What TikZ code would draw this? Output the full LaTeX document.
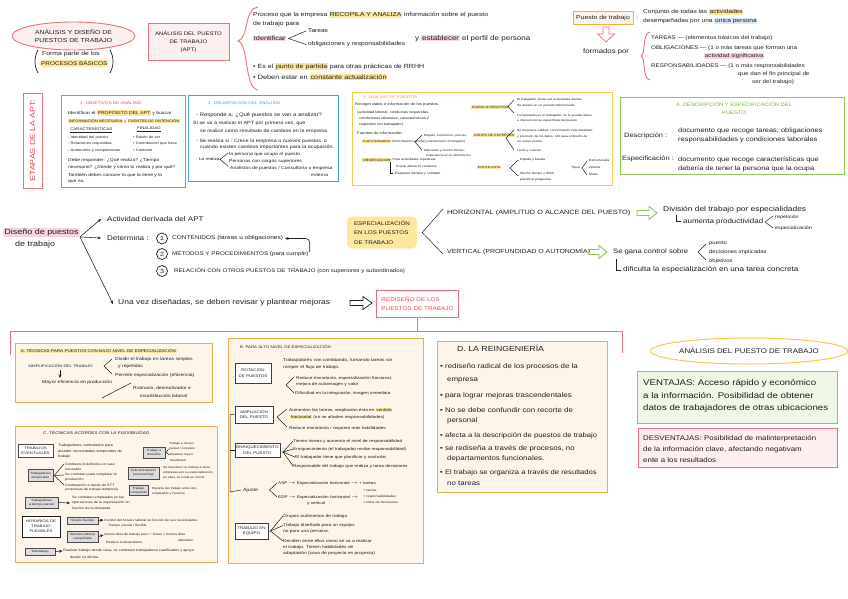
\documentclass[tikz,border=0pt]{standalone}
\usepackage{fontspec}
\setmainfont{Liberation Sans}[FakeStretch=1.18]
\usetikzlibrary{shapes.geometric,arrows.meta}
\definecolor{redb}{HTML}{EE7078}
\definecolor{redt}{HTML}{EC4652}
\definecolor{pinkf}{HTML}{FDEEF0}
\definecolor{hly}{HTML}{FBE7A0}
\definecolor{hlp}{HTML}{F9D3E2}
\definecolor{hlb}{HTML}{D6E8FA}
\definecolor{bluec}{HTML}{4A9FE8}
\definecolor{yelb}{HTML}{F6CB50}
\definecolor{yelt}{HTML}{E09A2A}
\definecolor{greenb}{HTML}{8DC853}
\definecolor{greent}{HTML}{72B62C}
\definecolor{greenf}{HTML}{EFF7E7}
\definecolor{orb}{HTML}{F6AA4E}
\definecolor{orf}{HTML}{FEF5EA}
\definecolor{ink}{HTML}{1E1E1E}
\definecolor{gbox}{HTML}{DCDCDC}
\newcommand{\HY}[1]{{\setlength{\fboxsep}{0.7pt}\colorbox{hly}{#1}}}
\newcommand{\HP}[1]{{\setlength{\fboxsep}{0.7pt}\colorbox{hlp}{#1}}}
\newcommand{\HB}[1]{{\setlength{\fboxsep}{0.7pt}\colorbox{hlb}{#1}}}
\begin{document}
\begin{tikzpicture}[x=1pt,y=-1pt,color=ink,
  tx/.style={anchor=west,inner sep=0pt,font=\fontsize{#1}{#1}\selectfont},
  arr/.style={-{Stealth[length=3.5pt,width=3pt]},line width=0.55pt},
  ln/.style={line width=0.5pt},
  sb/.style={draw=ink!80,line width=0.5pt,fill=gbox,inner sep=0.5pt,align=center,font=\fontsize{3}{3.6}\selectfont},
  bb/.style={draw=ink!85,line width=0.7pt,fill=white,inner sep=0pt,align=center,font=\fontsize{3.8}{5.5}\selectfont},
  obox/.style={draw=orb,fill=orf,line width=0.9pt}]
\useasboundingbox (0,0) rectangle (848,599);
\fill[white] (0,0) rectangle (848,599);

% ---------- top left
\node[ellipse,draw=redb,fill=pinkf,line width=0.9pt,minimum width=123pt,minimum height=28pt,inner sep=0pt,align=center,font=\fontsize{5.8}{8.5}\selectfont] (ead) at (73.5,36) {ANÁLISIS Y DISEÑO DE\\PUESTOS DE TRABAJO};
\node[tx=5.8] (fp1) at (42,54) {Forma parte de los};
\node[tx=5.4,fill=hly,inner sep=1pt,rounded corners=2pt] (fp2) at (40,63.5) {PROCESOS BÁSICOS};
\draw[line width=0.7pt] (38,50) .. controls (34,57) and (34,66) .. (38,73);
\draw[line width=0.7pt] (110,50) .. controls (114,57) and (114,66) .. (110,73);
\node[draw=redb,fill=pinkf,line width=0.9pt,minimum width=81pt,minimum height=37pt,inner sep=0pt,align=center,font=\fontsize{5.1}{8}\selectfont] (apt) at (188.5,41.5) {ANÁLISIS DEL PUESTO\\DE TRABAJO\\(APT)};

% ---------- top middle
\draw[redb,line width=0.9pt] (258,7) .. controls (244,8) and (249,38) .. (238,41) .. controls (249,44) and (244,88) .. (258,90);
\node[tx=5.8] (p1) at (253,15) {Proceso que la empresa \HY{RECOPILA Y ANALIZA} información sobre el puesto};
\node[tx=5.8] (p2) at (253,24) {de trabajo para};
\node[tx=6.2] (p3) at (253,38.5) {\HP{Identificar}};
\node[tx=5.6] (p4) at (308,31) {Tareas};
\node[tx=5.6] (p5) at (308,44.5) {obligaciones y responsabilidades};
\draw[ln] ([xshift=-2pt]p4.west) -- ([xshift=2pt]p3.east) -- ([xshift=-2pt]p5.west);
\node[tx=6.8] (p6) at (415,38.5) {y \HP{establecer} el perfil de persona};
\node[tx=6] (p7) at (253,66.5) {• Es el \HY{punto de partida} para otras prácticas de RRHH};
\node[tx=6.2] (p8) at (253,77) {• Deben estar en \HY{constante actualización}};

% ---------- top right
\node[draw=orb,fill=orf,line width=1pt,minimum width=60pt,minimum height=13pt,inner sep=0pt,font=\fontsize{5.8}{6}\selectfont] (pt) at (603,18) {Puesto de trabajo};
\node[tx=6] (ptc) at (636,17.5) {:};
\node[tx=5.6] (cj1) at (643,12) {Conjunto de todas las \HY{actividades}};
\node[tx=5.6] (cj2) at (643,21) {desempeñadas por una \HB{única persona}};
\draw[redb,line width=0.8pt] (603,27) -- (609,27) -- (609,34) -- (614.5,34) -- (606,42) -- (597.5,34) -- (603,34) -- cycle;
\node[tx=6.6] (fpor) at (583,52) {formados por};
\draw[redb,line width=0.9pt] (650,32) .. controls (642,33) and (646,54) .. (641,56) .. controls (646,58) and (642,79) .. (650,80);
\node[tx=5.3] (ta) at (651,38) {TAREAS — (elementos básicos del trabajo)};
\node[tx=5.3] (ob) at (651,48.5) {OBLIGACIONES — (1 o más tareas que forman una};
\node[tx=5.3] (ob2) at (704,56) {\HP{actividad significativa}};
\node[tx=5.3] (re) at (651,66) {RESPONSABILIDADES — (1 o más responsabilidades};
\node[tx=5.3] (re2) at (738,74) {que dan el fin principal de};
\node[tx=5.3] (re3) at (752,82) {ser del trabajo)};

% ---------- row 2
\node[rotate=90,draw=redb,line width=0.9pt,text=redt,minimum width=95pt,minimum height=19pt,inner sep=0pt,font=\fontsize{7.4}{7.4}\selectfont] (etapas) at (32.5,140.5) {ETAPAS DE LA APT:};

% box 1
\draw[redb,line width=0.9pt] (61,95) rectangle (185,187);
\node[tx=3.9,text=redt] (b1t) at (80,103) {1. OBJETIVOS DE ANÁLISIS};
\node[tx=4.3] (b1a) at (68,113) {Identificar el \HY{PROPÓSITO DEL APT} y buscar};
\node[tx=3.45] (b1b) at (68,121) {\HY{INFORMACIÓN NECESARIA} y \HY{FUENTES DE OBTENCIÓN}};
\node[tx=3.8] (b1c) at (70,130) {\underline{CARACTERÍSTICAS}};
\node[tx=3.8] (b1d) at (137,129.5) {\underline{FINALIDAD}};
\node[tx=3.5] (b1e) at (68,137.5) {- Identidad del puesto};
\node[tx=3.5] (b1f) at (68,144) {- Relaciones requeridas};
\node[tx=3.5] (b1g) at (68,150.5) {- Autonomía y competencias};
\node[tx=3.5] (b1h) at (133,137) {• Razón de ser};
\node[tx=3.5] (b1i) at (133,143.5) {• Contribución que hace};
\node[tx=3.5] (b1j) at (133,150) {• Contexto};
\node[tx=4.2] (b1k) at (68,160) {Debe responder: ¿Qué realiza? ¿Tiempo};
\node[tx=4.2] (b1l) at (68,167) {necesario? ¿Dónde y cómo lo realiza y por qué?};
\node[tx=4.2] (b1m) at (68,175) {También debes conocer lo que la tiene y lo};
\node[tx=4.2] (b1n) at (68,182) {que no.};

% box 2
\draw[bluec,line width=0.9pt] (188,95) rectangle (338,181);
\node[tx=4,text=bluec] (b2t) at (208,103) {2. DELIMITACIÓN DEL ANÁLISIS};
\node[tx=5] (b2a) at (196,115) {- Responde a: ¿Qué puestos se van a analizar?};
\node[tx=4.6] (b2b) at (193,123) {Si se va a realizar el APT por primera vez, que};
\node[tx=4.6] (b2c) at (200,131) {se realice como resultado de cambios en la empresa};
\node[tx=4.6] (b2d) at (196,141) {- Se realiza si : Crece la empresa o nuevos puestos, o};
\node[tx=4.6] (b2e) at (200,147.5) {cuando existen cambios importantes para la ocupación.};
\node[tx=4] (b2f) at (196,159.5) {- Lo realiza};
\node[tx=4.3] (b2g) at (229,154) {la persona que ocupa el puesto};
\node[tx=4.3] (b2h) at (229,161) {Personas con cargos superiores};
\node[tx=4.3] (b2i) at (230,168) {Analistas de puestos / Consultoría o empresa};
\node[tx=4.3] (b2j) at (311,175) {externa};
\draw[ln] (228,153) -- (220,159.5) -- (228,166);

% box 3
\draw[yelb,line width=0.9pt] (352,92) rectangle (612,185);
\node[tx=3.7,text=yelt] (b3t) at (363,96.5) {3. ANÁLISIS DE PUESTOS};
\node[tx=3.6] (b3a) at (355,105) {Recoger datos e información de los puestos};
\node[tx=3.4] (b3b) at (357,113) {(actividad laboral, conductas requeridas,};
\node[tx=3.4] (b3c) at (359,119) {condiciones laborales, características y};
\node[tx=3.4] (b3d) at (359,125) {requisitos del trabajador)};
\node[tx=3.6] (b3e) at (357,133.5) {Fuentes de información:};
\node[tx=3.1] (b3f) at (362,141.5) {\HY{CUESTIONARIO} (información escrita)};
\draw[ln] (422,135) -- (415,142) -- (422,150);
\node[tx=2.9] (b3g) at (424,136) {Rápido, económico, preciso};
\node[tx=2.9] (b3h) at (426,141.5) {(cuestionario, ficha/guión)};
\node[tx=2.9] (b3i) at (424,150.5) {Más lento y mucho tiempo,};
\node[tx=2.9] (b3j) at (426,156) {experiencia en la información};
\node[tx=3.2] (b3k) at (362,160) {\HY{OBSERVACIÓN}};
\node[tx=3] (b3l) at (388,160) {— Para actividades repetitivas};
\node[tx=3] (b3m) at (396,166) {Puede alterar la conducta};
\draw[ln] (390,162) -- (390,173) -- (393,173);
\node[tx=3.2] (b3n) at (395,173.5) {Requiere tiempo y cuidado.};
\node[tx=3.1] (b3o) at (471,107) {\HY{DIARIO O REGISTRO}};
\draw[ln] (514,100) -- (508,106.5) -- (514,113);
\node[tx=2.9] (b3p) at (517,100) {El trabajador anota sus actividades diarias};
\node[tx=2.9] (b3q) at (517,105.5) {Se anotan en un periodo determinado};
\node[tx=2.9] (b3r) at (517,115.5) {Completado por el trabajador, se le ayudan datos};
\node[tx=2.9] (b3s) at (517,121) {e intervenciones específicas del puesto};
\node[tx=3.1] (b3u) at (473,135) {\HY{GRUPO DE EXPERTOS}};
\draw[ln] (514,130) -- (506,138) -- (514,150);
\node[tx=2.9] (b3v) at (517,131) {Se mejora la calidad, conocimiento más detallado};
\node[tx=2.9] (b3w) at (517,136.5) {y precisión de los datos. Útil para el diseño de};
\node[tx=2.9] (b3x) at (517,142) {un nuevo puesto};
\node[tx=2.9] (b3y) at (517,151) {Lento y costoso};
\node[tx=3.1] (b3z) at (477,167.5) {\HY{ENTREVISTA}};
\draw[ln] (518,160) -- (510,168) -- (518,176);
\node[tx=3] (b3aa) at (520,160) {Rápida y barata};
\node[tx=3] (b3ab) at (520,174) {Mucho tiempo y difícil};
\node[tx=3] (b3ac) at (520,179.5) {planificar preguntas};
\node[tx=3.1] (b3ad) at (571,168) {Tipos};
\draw[ln] (587,161) -- (582,168) -- (587,175);
\node[tx=3] (b3ae) at (589,160.5) {Estructurada};
\node[tx=3] (b3af) at (589,167.5) {Abierta};
\node[tx=3] (b3ag) at (589,174.5) {Mixta};

% box 4
\draw[greenb,line width=0.9pt] (620,97) rectangle (844,174);
\node[text=greent,inner sep=0pt,align=center,font=\fontsize{4.9}{7.5}\selectfont] (b4t) at (734,108.5) {4. DESCRIPCIÓN Y ESPECIFICACIÓN DEL\\PUESTO};
\node[tx=6.3] (b4a) at (624,136) {Descripción :};
\node[tx=6.3] (b4b) at (678,131) {documento que recoge tareas, obligaciones};
\node[tx=6.3] (b4c) at (678,140) {responsabilidades y condiciones laborales};
\node[tx=6.3] (b4d) at (622,159) {Especificación :};
\node[tx=6.3] (b4e) at (678,160) {documento que recoge características que};
\node[tx=6.3] (b4f) at (678,168.5) {debería de tener la persona que la ocupa};

% ---------- middle
\node[tx=7.6,fill=hlp,inner sep=1.2pt,rounded corners=3pt] (dp1) at (3,232.5) {Diseño de puestos};
\node[tx=7.6] (dp2) at (15,244.5) {de trabajo};
\coordinate (dsrc) at (80,237);
\node[tx=6.8] (act) at (107,219) {Actividad derivada del APT};
\node[tx=6.8] (det) at (107,238) {Determina :};
\node[tx=7.2] (una) at (118,303) {Una vez diseñadas, se deben revisar y plantear mejoras};
\draw[arr] (dsrc) -- ([xshift=-6pt]act.west);
\draw[arr] (dsrc) -- ([xshift=-6pt]det.west);
\draw[arr] (dsrc) -- ([xshift=-5pt,yshift=-1pt]una.west);
\node[circle,draw,line width=0.7pt,minimum size=11pt,inner sep=0pt,font=\fontsize{6}{6}\selectfont] (c1) at (162,238.5) {1};
\node[circle,draw,line width=0.7pt,minimum size=11pt,inner sep=0pt,font=\fontsize{6}{6}\selectfont] (c2) at (162,254) {2};
\node[circle,draw,line width=0.7pt,minimum size=11pt,inner sep=0pt,font=\fontsize{6}{6}\selectfont] (c3) at (162,271) {3};
\node[tx=5.5] (m1) at (172,238.5) {CONTENIDOS (tareas u obligaciones)};
\node[tx=5.3] (m2) at (172,254) {MÉTODOS Y PROCEDIMIENTOS (para cumplir)};
\node[tx=5.2] (m3) at (174,271) {RELACIÓN CON OTROS PUESTOS DE TRABAJO (con superiores y subordinados)};
\draw[arr,rounded corners=4pt] ([xshift=1pt,yshift=2pt]m2.east) |- ([xshift=2pt]m1.east);
\draw[line width=0.7pt] (350,300.5) -- (363,300.5) -- (363,296.5) -- (372,303) -- (363,309.5) -- (363,305.5) -- (350,305.5) -- cycle;
\node[draw=redb,fill=white,line width=0.9pt,minimum width=82pt,minimum height=27pt,inner sep=0pt,align=left,text=redt,font=\fontsize{5.4}{9}\selectfont] (red) at (417.5,303.5) {REDISEÑO DE LOS\\PUESTOS DE TRABAJO};

\node[fill=hly,rounded corners=5pt,inner sep=2pt,minimum width=70pt,minimum height=32pt,align=left,font=\fontsize{5.3}{9.5}\selectfont] (esp) at (382,232.5) {ESPECIALIZACIÓN\\EN LOS PUESTOS\\DE TRABAJO};
\node[tx=6.2] (hor) at (447,213) {HORIZONTAL (AMPLITUD O ALCANCE DEL PUESTO)};
\node[tx=5.9] (ver) at (447,252) {VERTICAL (PROFUNDIDAD O AUTONOMÍA)};
\draw[ln] ([xshift=-4pt,yshift=4pt]hor.west) -- ([xshift=5pt]esp.east) -- ([xshift=-4pt,yshift=-2pt]ver.west);
\draw[greenb,line width=0.9pt] (637,210.5) -- (649,210.5) -- (649,206.5) -- (657,213) -- (649,219.5) -- (649,215.5) -- (637,215.5) -- cycle;
\draw[greenb,line width=0.9pt] (589,249.5) -- (599,249.5) -- (599,245.5) -- (607,252) -- (599,258.5) -- (599,254.5) -- (589,254.5) -- cycle;
\node[tx=7.1] (div) at (663,210) {División del trabajo por especialidades};
\node[tx=6.7] (aum) at (683,221.5) {aumenta productividad};
\draw[ln] (676,215) -- (676,221.5) -- (681,221.5);
\draw[ln] (773,216) -- (765,222) -- (773,228);
\node[tx=4.6] (rep) at (775,217) {repetición};
\node[tx=4.6] (esz) at (775,228) {especialización};
\node[tx=6.5] (sgc) at (613,252) {Se gana control sobre};
\draw[ln] (706,244) -- (698,252) -- (706,260);
\node[tx=5] (v1) at (709,243) {puesto};
\node[tx=5] (v2) at (709,252) {decisiones implicadas};
\node[tx=5] (v3) at (709,261) {objetivos};
\node[tx=6.9] (dif) at (623,270) {dificulta la especialización en una tarea concreta};
\draw[ln] (616,259) -- (616,270) -- (621,270);

% ---------- bottom connector
\draw[redb,line width=1pt] (10,355) -- (10,331) -- (622,331) -- (622,353);
\draw[redb,line width=1pt] (red.south) -- (red.south |- 0,331);

% box A
\draw[obox] (15,343) rectangle (212,402);
\node[tx=3.9] (at) at (20,351) {\HY{A. TÉCNICAS PARA PUESTOS CON BAJO NIVEL DE ESPECIALIZACIÓN}};
\node[tx=3.6] (a1) at (28,366) {SIMPLIFICACIÓN DEL TRABAJO};
\draw[ln] (112,359) -- (104,366) -- (112,374);
\node[tx=4.3] (a2) at (115,359.5) {Dividir el trabajo en tareas simples};
\node[tx=4.3] (a3) at (118,366) {y repetidas};
\node[tx=4.3] (a4) at (115,375.5) {Permite especialización (eficiencia)};
\draw[arr] (60,370) -- (60,378);
\node[tx=4.3] (a5) at (42,382) {Mayor eficiencia en producción};
\draw[ln] (102,398) -- (131,383);
\node[tx=4.3] (a6) at (133,388.5) {Rutinario, desmotivador e};
\node[tx=4.3] (a7) at (140,395.5) {insatisfacción laboral};

% box C
\draw[obox] (15,426) rectangle (217,562);
\node[tx=4] (ct) at (43,433) {C. TÉCNICAS ACORDES CON LA FLEXIBILIDAD};
\node[sb,fill=white,minimum width=35pt,minimum height=13pt,font=\fontsize{3.6}{4.8}\selectfont] (teve) at (35.5,450.5) {TRABAJOS\\EVENTUALES};
\node[tx=3.4] (c1a) at (58,446) {Trabajadores contratados para};
\node[tx=3.4] (c1b) at (58,451.5) {atender necesidades temporales de};
\node[tx=3.4] (c1c) at (58,457) {trabajo};
\node[sb,minimum width=22pt,minimum height=11pt] (tdom) at (154,452.5) {Trabajo a\\domicilio};
\node[tx=2.8] (c2a) at (169,444) {Trabajo a tiempo};
\node[tx=2.8] (c2b) at (169,449) {parcial / completo};
\node[tx=2.8] (c2c) at (170,455) {Realizan mayor};
\node[tx=2.8] (c2d) at (170,460) {flexibilidad};
\draw[ln] ([xshift=-0.5pt]c2b.west) -- ([xshift=1pt]tdom.east) -- ([xshift=-0.5pt]c2c.west);
\node[sb,minimum width=25pt,minimum height=12pt] (ttem) at (40.5,475.5) {Trabajadores\\temporales};
\node[tx=3.2] (c3a) at (65,464) {Contratos indefinidos en caso};
\node[tx=3.2] (c3b) at (65,469) {necesario};
\node[tx=3.2] (c3c) at (65,475) {Se contratan para completar la};
\node[tx=3.2] (c3d) at (65,480) {producción};
\node[tx=3.2] (c3e) at (65,485) {Contratación a través de ETT};
\node[tx=3.2] (c3f) at (65,490) {(empresas de trabajo temporal)};
\draw[ln] ([xshift=-1pt]c3a.west) -- ([xshift=1pt]ttem.east) -- ([xshift=-1pt]c3c.west);
\draw[ln] ([xshift=1pt]ttem.east) -- ([xshift=-1pt]c3e.west);
\node[sb,minimum width=31pt,minimum height=12pt] (subc) at (143.5,473) {Subcontratación\\(outsourcing)};
\node[tx=2.9] (c4a) at (163,467.5) {Se transfiere un trabajo a otras};
\node[tx=2.9] (c4b) at (163,472.5) {empresas por su especialización};
\node[tx=2.9] (c4c) at (163,477.5) {en ellas, su coste es menor};
\node[sb,minimum width=17pt,minimum height=10pt] (tcom) at (138.5,490.5) {Trabajo\\compartido};
\node[tx=2.9] (c5a) at (152,488.5) {Reparto del trabajo entre dos};
\node[tx=2.9] (c5b) at (152,493.5) {empleados y horarios};
\node[sb,minimum width=33pt,minimum height=11pt] (tpar) at (41.5,502.5) {Trabajadores\\a tiempo parcial};
\node[tx=3.2] (c6a) at (72,498) {Se contratan empleados en las};
\node[tx=3.2] (c6b) at (72,503) {operaciones de la organización en};
\node[tx=3.2] (c6c) at (72,508) {función de la demanda};
\draw[arr] (tpar.east) -- ([xshift=-2pt]c6b.west);
\node[draw,line width=0.7pt,fill=white,minimum width=38pt,minimum height=21pt,inner sep=0pt,align=center,font=\fontsize{3.6}{5}\selectfont] (hflex) at (41,526.5) {HORARIOS DE\\TRABAJO\\FLEXIBLES};
\node[sb,minimum width=31pt,minimum height=7pt] (hf1) at (82.5,520.5) {Horario flexible};
\node[tx=3.1] (c7a) at (104,520) {Control del horario laboral en función de sus necesidades};
\node[tx=3.1] (c7b) at (106,525.5) {· Tiempo parcial / flexible};
\draw[arr] (hf1.east) -- ([xshift=-0.5pt]c7a.west);
\node[sb,minimum width=31pt,minimum height=11pt] (hf2) at (82.5,536.5) {Semana laboral\\comprimida};
\node[tx=3.1] (c8a) at (104,535) {menos días de trabajo pero + horas = menos días};
\node[tx=3.1] (c8b) at (178,540) {laborales};
\node[tx=3.1] (c8c) at (106,542.5) {Reduce el absentismo};
\draw[arr] (hf2.east) -- ([xshift=-0.5pt]c8a.west);
\node[sb,minimum width=30pt,minimum height=7pt] (tele) at (40,551.5) {Teletrabajo};
\node[tx=3.3] (c9a) at (63,551) {Realizar trabajo desde casa, se contratan trabajadores cualificados y apoyo};
\node[tx=3.3] (c9b) at (70,557) {desde su oficina};
\draw[arr] (tele.east) -- ([xshift=-0.5pt]c9a.west);

% box B
\draw[obox] (228,338) rectangle (423,563);
\node[tx=3.7] (bt) at (240,346.5) {B. PARA ALTO NIVEL DE ESPECIALIZACIÓN};
\node[bb,minimum width=36pt,minimum height=20pt] (rot) at (253,373) {ROTACIÓN\\DE PUESTOS};
\node[tx=4.2] (r1) at (283,360) {Trabajadores van cambiando, turnando tareas sin};
\node[tx=4.2] (r2) at (283,367) {romper el flujo de trabajo.};
\draw[ln] (294,377) -- (286,385) -- (294,393);
\node[tx=4] (r3) at (296,378) {Reduce monotonía, especialización funcional,};
\node[tx=4] (r4) at (296,384) {mejora de autoimagen y valor};
\node[tx=4] (r5) at (295,393) {Dificultad en la integración, imagen inmediata};
\node[bb,minimum width=38pt,minimum height=17pt] (amp) at (254,414.5) {AMPLIACIÓN\\DEL PUESTO};
\draw[ln] (287,409) -- (277,417) -- (287,427);
\node[tx=4] (r6) at (289,410) {Aumentan las tareas, ampliación ésta en \HY{sentido}};
\node[tx=4] (r7) at (290,417) {\HY{horizontal} (no se añaden responsabilidades)};
\node[tx=4] (r8) at (289,428) {Reduce monotonía / requiere más habilidades};
\node[bb,minimum width=45pt,minimum height=14pt] (enr) at (257.5,450) {ENRIQUECIMIENTO\\DEL PUESTO};
\node[tx=4] (r9) at (293,441) {Tienen tareas y aumenta el nivel de responsabilidad};
\node[tx=4] (r10) at (293,449) {Enriquecimiento (el trabajador recibe responsabilidad)};
\node[tx=4] (r11) at (295,457) {El trabajador tiene que planificar y controlar};
\node[tx=4] (r12) at (293,466) {Responsable del trabajo que realiza y toma decisiones};
\draw[ln] (r9.west) -- (283,452) -- (r10.west);
\draw[ln] (r11.west) -- (283,452) -- (r12.west);
\node[tx=4.5] (aju) at (243,490) {Ajuste};
\draw[ln] (277,483) -- (269.5,490) -- (277,497);
\node[tx=3.9] (r13) at (278,483) {ASP $\rightarrow$ Especialización horizontal $\rightarrow$ + tareas};
\node[tx=3.9] (r14) at (278,497) {EDP $\rightarrow$ Especialización horizontal $\rightarrow$};
\node[tx=3.9] (r15) at (307,503.5) {y vertical};
\node[tx=3.1] (r16) at (363,491) {+ tareas};
\node[tx=3.1] (r17) at (363,496.5) {+ responsabilidades};
\node[tx=3.1] (r18) at (363,502) {+ toma de decisiones};
\draw[ln] (amp.west) -| (230,492) -- ([xshift=-2pt]aju.west);
\draw[ln] (230,450) -- (enr.west);
\node[bb,minimum width=33pt,minimum height=16pt] (teq) at (251.5,531) {TRABAJO EN\\EQUIPO};
\node[tx=4.1] (q1) at (283,516) {Grupos autónomos de trabajo};
\node[tx=4.1] (q2) at (283,525.5) {Trabajo diseñado para un equipo,};
\node[tx=4.1] (q3) at (283,532) {no para una persona.};
\node[tx=4.1] (q4) at (283,541) {Deciden entre ellos cómo se va a realizar};
\node[tx=4.1] (q5) at (283,547) {el trabajo. Tienen habilidades de};
\node[tx=4.1] (q6) at (283,553) {adaptación (caso de proyecto en proyecto)};
\draw[ln] (q1.west) -- ([xshift=2pt]teq.east) -- (q2.west);
\draw[ln] ([xshift=2pt]teq.east) -- (q4.west);

% box D
\draw[obox] (437,341) rectangle (607,492);
\node[tx=7.4] (dt) at (457,348.5) {D. LA REINGENIERÍA};
\node[tx=6.7] (d1) at (440,367) {• rediseño radical de los procesos de la};
\node[tx=6.7] (d2) at (447,380.5) {empresa};
\node[tx=6.7] (d3) at (440,396) {• para lograr mejoras trascendentales};
\node[tx=6.7] (d4) at (440,410.5) {• No se debe confundir con recorte de};
\node[tx=6.7] (d5) at (447,421) {personal};
\node[tx=6.5] (d6) at (440,436) {• afecta a la descripción de puestos de trabajo};
\node[tx=6.7] (d7) at (440,449) {• se rediseña a través de procesos, no};
\node[tx=6.7] (d8) at (447,459) {departamentos funcionales.};
\node[tx=6.5] (d9) at (440,473) {• El trabajo se organiza a través de resultados};
\node[tx=6.7] (d10) at (447,483.5) {no tareas};

% right bottom
\node[ellipse,draw=yelb,line width=1pt,fill=white,minimum width=178pt,minimum height=26pt,inner sep=0pt,font=\fontsize{6.7}{7}\selectfont] (eapt) at (749,351) {ANÁLISIS DEL PUESTO DE TRABAJO};
\draw[greenb,fill=greenf,line width=1pt] (637,371) rectangle (837,423);
\node[tx=8.2] (v1a) at (643,383) {VENTAJAS: Acceso rápido y económico};
\node[tx=8.2] (v1b) at (643,396) {a la información. Posibilidad de obtener};
\node[tx=8.2] (v1c) at (643,408.5) {datos de trabajadores de otras ubicaciones};
\draw[redb,fill=pinkf,line width=1pt] (638,428) rectangle (837,467);
\node[tx=6.7] (dv1) at (643,438.5) {DESVENTAJAS: Posibilidad de malinterpretación};
\node[tx=6.7] (dv2) at (643,450) {de la información clave, afectando negativam};
\node[tx=6.7] (dv3) at (643,460.5) {ente a los resultados};
\end{tikzpicture}
\end{document}
